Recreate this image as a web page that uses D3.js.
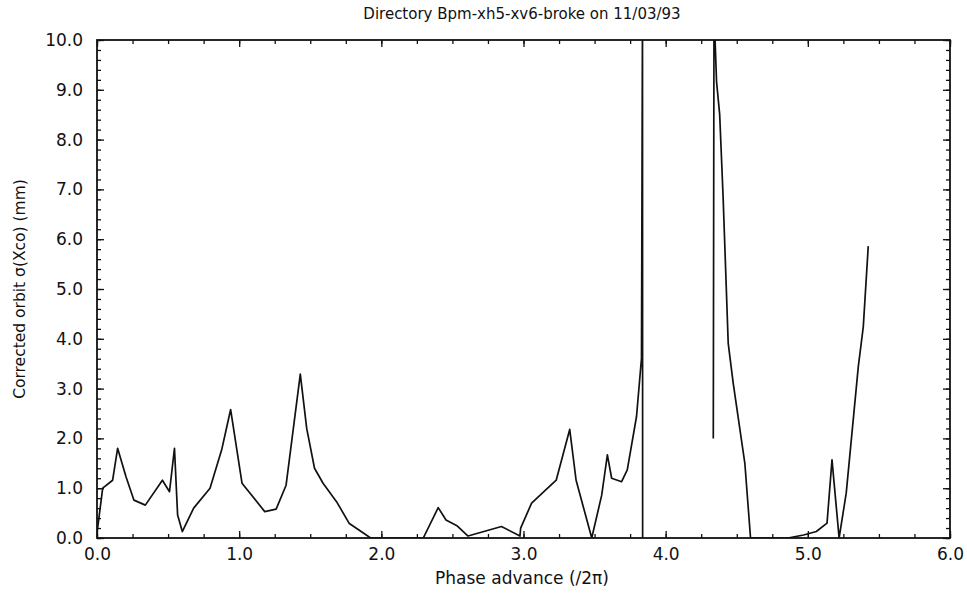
<!DOCTYPE html>
<html>
<head>
<meta charset="utf-8">
<script src="https://cdn.jsdelivr.net/npm/d3@7"></script>
<style>
  body { margin: 0; background: #fff; }
  svg text { font-family: "DejaVu Sans", "Liberation Sans", Arial, sans-serif; fill: #111; }
</style>
</head>
<body>
<div id="chart"></div>
<script>
// phase advance (/2pi) and corrected orbit sigma (mm); null = break in the trace
var phase = [0.00, 0.04, 0.11, 0.145, 0.204, 0.26, 0.34, 0.46, 0.51, 0.545, 0.567, 0.60,
  0.68, 0.795, 0.877, 0.94, 1.02, 1.18, 1.26, 1.33, 1.43, 1.475, 1.53, 1.59, 1.685, 1.775,
  1.925, 2.295, 2.40, 2.455, 2.535, 2.61, 2.845, 2.975, 2.98, 3.057, 3.23, 3.325, 3.37,
  3.48, 3.55, 3.59, 3.62, 3.69, 3.73, 3.795, 3.83, 3.837, 3.838, 3.84,
  4.10,
  4.335, 4.34, 4.358, 4.38, 4.404, 4.44, 4.475, 4.557, 4.597, 4.86, 4.97, 5.06, 5.135,
  5.17, 5.22, 5.27, 5.355, 5.39, 5.425];
var sigma = [0.10, 1.00, 1.16, 1.80, 1.23, 0.76, 0.66, 1.16, 0.93, 1.80, 0.46, 0.13,
  0.60, 1.00, 1.77, 2.58, 1.10, 0.53, 0.58, 1.06, 3.29, 2.20, 1.40, 1.10, 0.73, 0.29,
  0.00, 0.00, 0.61, 0.36, 0.24, 0.04, 0.23, 0.04, 0.20, 0.70, 1.16, 2.18, 1.16,
  0.00, 0.86, 1.67, 1.20, 1.13, 1.37, 2.44, 3.61, 10.6, 0.00, 0.00,
  null,
  2.00, 10.6, 9.16, 8.50, 6.85, 3.91, 3.11, 1.50, 0.00, 0.00, 0.06, 0.13, 0.30,
  1.57, 0.00, 0.90, 3.44, 4.24, 5.86];

var xTicks = [0, 1, 2, 3, 4, 5, 6];
var yTicks = [0, 1, 2, 3, 4, 5, 6, 7, 8, 9, 10];

var W = 967, H = 594;
var pLeft = 97, pRight = 950, pTop = 40, pBottom = 538;

var svg = d3.select("#chart").append("svg").attr("width", W).attr("height", H);

var x = d3.scaleLinear().domain([0, 6]).range([pLeft, pRight]);
var y = d3.scaleLinear().domain([0, 10]).range([pBottom, pTop]);

var fmt = d3.format(".1f");

// minor tick positions
var xMinor = d3.range(0, 6.001, 0.25);
var yMinor = d3.range(0, 10.001, 0.2);

// bottom (ticks inward)
var gb = svg.append("g").attr("transform", "translate(0," + pBottom + ")");
gb.append("g").call(d3.axisTop(x).tickValues(xMinor).tickSize(4).tickFormat(""));
gb.append("g").call(d3.axisTop(x).tickValues(xTicks).tickSize(7).tickFormat(""));
gb.append("g").call(d3.axisBottom(x).tickValues(xTicks).tickSize(0).tickPadding(10).tickFormat(fmt))
  .selectAll("text").style("font-size", "17px");

// top
var gt = svg.append("g").attr("transform", "translate(0," + pTop + ")");
gt.append("g").call(d3.axisBottom(x).tickValues(xMinor).tickSize(4).tickFormat(""));
gt.append("g").call(d3.axisBottom(x).tickValues(xTicks).tickSize(7).tickFormat(""));

// left
var gl = svg.append("g").attr("transform", "translate(" + pLeft + ",0)");
gl.append("g").call(d3.axisRight(y).tickValues(yMinor).tickSize(4).tickFormat(""));
gl.append("g").call(d3.axisRight(y).tickValues(yTicks).tickSize(7).tickFormat(""));
gl.append("g").call(d3.axisLeft(y).tickValues(yTicks).tickSize(0).tickPadding(14).tickFormat(fmt))
  .selectAll("text").style("font-size", "17px");

// right
var gr = svg.append("g").attr("transform", "translate(" + pRight + ",0)");
gr.append("g").call(d3.axisLeft(y).tickValues(yMinor).tickSize(4).tickFormat(""));
gr.append("g").call(d3.axisLeft(y).tickValues(yTicks).tickSize(7).tickFormat(""));

svg.selectAll(".domain").remove();
svg.selectAll(".tick line").attr("stroke", "#111").attr("stroke-width", 1.3);

// frame
svg.append("rect").attr("x", pLeft).attr("y", pTop)
  .attr("width", pRight - pLeft).attr("height", pBottom - pTop)
  .attr("fill", "none").attr("stroke", "#111").attr("stroke-width", 1.8);

// data trace clipped to the frame
svg.append("clipPath").attr("id", "clip").append("rect")
  .attr("x", pLeft).attr("y", pTop).attr("width", pRight - pLeft).attr("height", pBottom - pTop);

var pts = phase.map(function(p, i) { return [p, sigma[i]]; });
var line = d3.line()
  .defined(function(d) { return d[1] !== null; })
  .x(function(d) { return x(d[0]); })
  .y(function(d) { return y(d[1]); });

svg.append("path").datum(pts)
  .attr("clip-path", "url(#clip)")
  .attr("d", line)
  .attr("fill", "none").attr("stroke", "#111").attr("stroke-width", 1.7)
  .attr("stroke-linejoin", "round");

// titles
svg.append("text").attr("x", 522).attr("y", 19).attr("text-anchor", "middle")
  .style("font-size", "15px").text("Directory Bpm-xh5-xv6-broke on 11/03/93");
svg.append("text").attr("x", 522).attr("y", 584).attr("text-anchor", "middle")
  .style("font-size", "17px").text("Phase advance (/2\u03c0)");
svg.append("text").attr("transform", "translate(25,289) rotate(-90)")
  .attr("text-anchor", "middle").style("font-size", "15.5px")
  .text("Corrected orbit \u03c3(Xco) (mm)");
</script>
</body>
</html>
